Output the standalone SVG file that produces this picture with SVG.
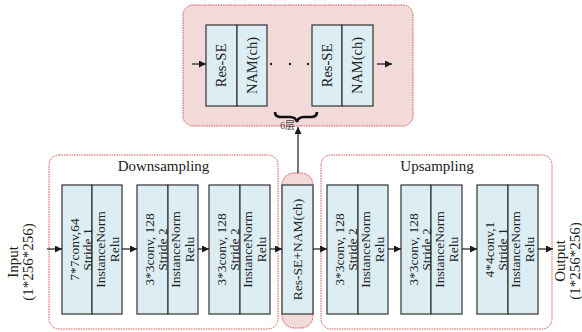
<svg xmlns="http://www.w3.org/2000/svg" width="582" height="332" viewBox="0 0 582 332" font-family="'Liberation Serif', 'Times New Roman', serif">
<defs>
<marker id="ah" viewBox="0 0 10 10" refX="10" refY="5" markerWidth="7" markerHeight="7" markerUnits="userSpaceOnUse" orient="auto">
<path d="M0,0 L10,5 L0,10 z" fill="#1a1a1a"/>
</marker>
<style>
.cont{fill:#ffffff;stroke:#d0504c;stroke-width:1;stroke-dasharray:1.5 1}
.contp{fill:#f2dad9;stroke:#d0504c;stroke-width:1;stroke-dasharray:1.5 1}
.blk{fill:#dcedf3;stroke:#333333;stroke-width:1.2}
.t{font-size:13.5px;fill:#222;text-anchor:middle}
.tt{font-size:14.5px;fill:#222;text-anchor:middle}
.ti{font-size:15px;fill:#222;text-anchor:middle}
.arr{stroke:#1a1a1a;stroke-width:1.2;fill:none;marker-end:url(#ah)}
</style>
</defs>

<!-- containers -->
<g id="top-container">
<rect class="contp" x="183" y="5" width="230" height="121" rx="10"/>
</g>
<g id="downsampling">
<rect class="cont" x="49" y="155" width="229" height="174" rx="10"/>
<text class="ti" x="163.5" y="171" font-family="Liberation Serif, serif">Downsampling</text>
</g>
<g id="upsampling">
<rect class="cont" x="321" y="155" width="231" height="174" rx="10"/>
<text class="ti" x="437" y="171">Upsampling</text>
</g>

<!-- top blocks -->
<g id="top-block-1">
<rect class="blk" x="206" y="25" width="31" height="81"/>
<rect class="blk" x="237" y="25" width="30" height="81"/>
<text class="tt" transform="translate(226,65.5) rotate(-90)">Res-SE</text>
<text class="tt" transform="translate(256.5,65.5) rotate(-90)">NAM(ch)</text>
</g>
<g id="top-dots">
<circle cx="271" cy="64" r="1.2" fill="#222"/>
<circle cx="290" cy="64" r="1.2" fill="#222"/>
<circle cx="308" cy="64" r="1.2" fill="#222"/>
</g>
<g id="top-block-2">
<rect class="blk" x="312" y="25" width="30" height="81"/>
<rect class="blk" x="342" y="25" width="31" height="81"/>
<text class="tt" transform="translate(331.5,65.5) rotate(-90)">Res-SE</text>
<text class="tt" transform="translate(362,65.5) rotate(-90)">NAM(ch)</text>
</g>
<g id="brace">
<path d="M275,112 Q275,117 281,117 L290,117 Q296,117 297,122 Q298,117 304,117 L311,117 Q317,117 317,112" fill="none" stroke="#111" stroke-width="2.6"/>
<text x="287.5" y="129" font-family="'Liberation Serif', 'Noto Sans CJK SC', serif" font-size="10" fill="#444" text-anchor="middle">6层</text>
</g>

<!-- io labels -->
<g id="input">
<text class="ti" transform="translate(18,262) rotate(-90)">Input</text>
<text class="ti" transform="translate(32.5,262) rotate(-90)">(1*256*256)</text>
</g>
<g id="output">
<text class="ti" transform="translate(565,261) rotate(-90)">Output</text>
<text class="ti" transform="translate(579.5,261) rotate(-90)">(1*256*256)</text>
</g>

<!-- downsampling blocks -->
<g id="down-1">
<rect class="blk" x="62" y="185" width="30" height="129"/>
<rect class="blk" x="92" y="185" width="30" height="129"/>
<text class="t" transform="translate(79,249.5) rotate(-90)">7*7conv,64</text>
<text class="t" transform="translate(92,249.5) rotate(-90)">Stride 1</text>
<text class="t" transform="translate(105,249.5) rotate(-90)">InstanceNorm</text>
<text class="t" transform="translate(119,249.5) rotate(-90)">Relu</text>
</g>
<g id="down-2">
<rect class="blk" x="137" y="185" width="31" height="129"/>
<rect class="blk" x="168" y="185" width="30" height="129"/>
<text class="t" transform="translate(154,249.5) rotate(-90)">3*3conv, 128</text>
<text class="t" transform="translate(167,249.5) rotate(-90)">Stride 2</text>
<text class="t" transform="translate(180,249.5) rotate(-90)">InstanceNorm</text>
<text class="t" transform="translate(194,249.5) rotate(-90)">Relu</text>
</g>
<g id="down-3">
<rect class="blk" x="209" y="185" width="31" height="129"/>
<rect class="blk" x="240" y="185" width="30" height="129"/>
<text class="t" transform="translate(226,249.5) rotate(-90)">3*3conv, 128</text>
<text class="t" transform="translate(239,249.5) rotate(-90)">Stride 2</text>
<text class="t" transform="translate(252,249.5) rotate(-90)">InstanceNorm</text>
<text class="t" transform="translate(266,249.5) rotate(-90)">Relu</text>
</g>

<!-- middle block -->
<g id="middle">
<rect class="contp" x="282" y="173" width="31" height="155" rx="12"/>
<rect class="blk" x="282" y="185" width="31" height="129"/>
<text class="t" transform="translate(302,249.5) rotate(-90)">Res-SE+NAM(ch)</text>
</g>

<!-- upsampling blocks -->
<g id="up-1">
<rect class="blk" x="327" y="185" width="31" height="129"/>
<rect class="blk" x="358" y="185" width="30" height="129"/>
<text class="t" transform="translate(344,249.5) rotate(-90)">3*3conv, 128</text>
<text class="t" transform="translate(357,249.5) rotate(-90)">Stride 2</text>
<text class="t" transform="translate(370,249.5) rotate(-90)">InstanceNorm</text>
<text class="t" transform="translate(384,249.5) rotate(-90)">Relu</text>
</g>
<g id="up-2">
<rect class="blk" x="401" y="185" width="30" height="129"/>
<rect class="blk" x="431" y="185" width="31" height="129"/>
<text class="t" transform="translate(418,249.5) rotate(-90)">3*3conv, 128</text>
<text class="t" transform="translate(431,249.5) rotate(-90)">Stride 2</text>
<text class="t" transform="translate(444,249.5) rotate(-90)">InstanceNorm</text>
<text class="t" transform="translate(458,249.5) rotate(-90)">Relu</text>
</g>
<g id="up-3">
<rect class="blk" x="477" y="185" width="31" height="129"/>
<rect class="blk" x="508" y="185" width="30" height="129"/>
<text class="t" transform="translate(494,249.5) rotate(-90)">4*4conv,1</text>
<text class="t" transform="translate(507,249.5) rotate(-90)">Stride 1</text>
<text class="t" transform="translate(520,249.5) rotate(-90)">InstanceNorm</text>
<text class="t" transform="translate(534,249.5) rotate(-90)">Relu</text>
</g>

<!-- connectors -->
<g id="connectors">
<line class="arr" x1="47" y1="249" x2="62" y2="249"/>
<line class="arr" x1="122" y1="249" x2="137" y2="249"/>
<line class="arr" x1="198" y1="249" x2="209" y2="249"/>
<line class="arr" x1="270" y1="249" x2="282" y2="249"/>
<line class="arr" x1="313" y1="249" x2="327" y2="249"/>
<line class="arr" x1="388" y1="249" x2="401" y2="249"/>
<line class="arr" x1="462" y1="249" x2="477" y2="249"/>
<line class="arr" x1="538" y1="249" x2="553" y2="249"/>
<line class="arr" x1="298" y1="173" x2="298" y2="127"/>
<line class="arr" x1="192" y1="64" x2="206" y2="64"/>
<line class="arr" x1="377" y1="64" x2="392" y2="64"/>
</g>
</svg>
